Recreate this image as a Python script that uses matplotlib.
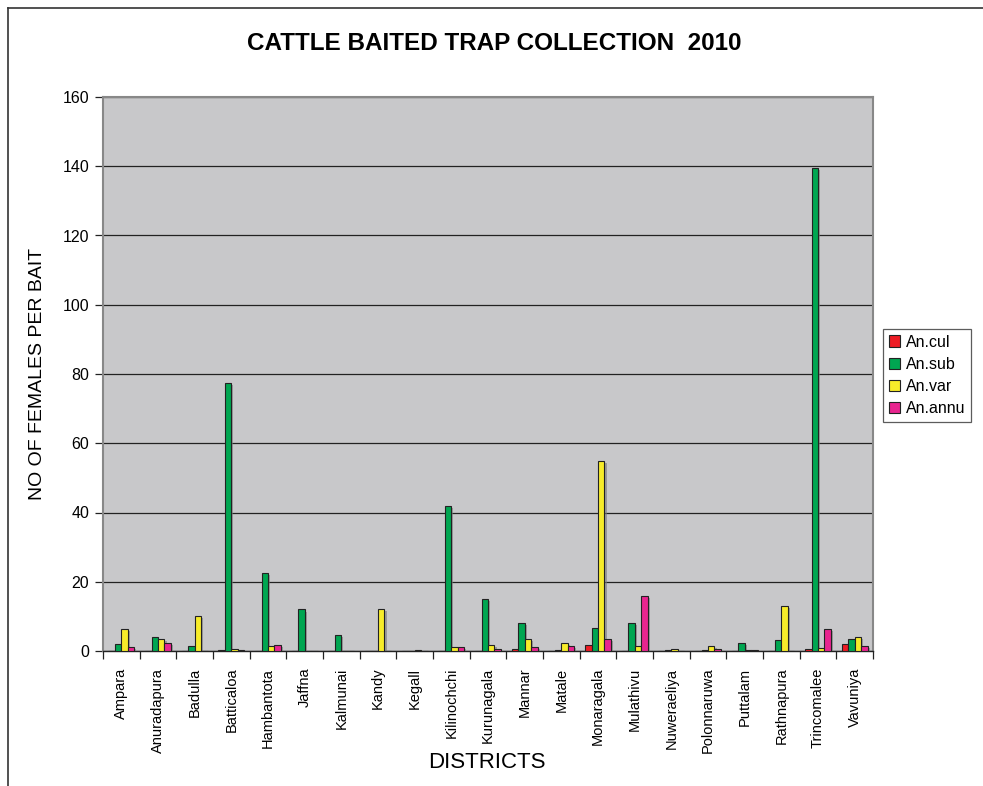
import matplotlib
matplotlib.use("Agg")
import matplotlib.pyplot as plt
import matplotlib.patheffects as pe
from matplotlib.lines import Line2D
import numpy as np

plt.rcParams['font.family'] = ['Liberation Sans', 'DejaVu Sans']

districts = ["Ampara", "Anuradapura", "Badulla", "Batticaloa", "Hambantota", "Jaffna",
             "Kalmunai", "Kandy", "Kegall", "Kilinochchi", "Kurunagala", "Mannar",
             "Matale", "Monaragala", "Mulathivu", "Nuweraeliya", "Polonnaruwa",
             "Puttalam", "Rathnapura", "Trincomalee", "Vavuniya"]

an_cul = [0, 0, 0, 0.3, 0, 0, 0, 0, 0, 0, 0, 0.6, 0, 1.8, 0, 0, 0, 0, 0, 0.6, 2.1]
an_sub = [2.1, 4.0, 1.5, 77.5, 22.5, 12.0, 4.7, 0, 0, 42.0, 15.1, 8.1, 0.3, 6.7, 8.0,
          0.3, 0.4, 2.4, 3.3, 139.5, 3.5]
an_var = [6.3, 3.4, 10.0, 0.6, 1.4, 0, 0, 12.1, 0.3, 1.2, 1.8, 3.5, 2.4, 54.9, 1.5,
          0.6, 1.5, 0.3, 13.0, 1.0, 4.1]
an_annu = [1.1, 2.4, 0, 0.3, 1.8, 0, 0, 0, 0, 1.2, 0.6, 1.2, 1.5, 3.5, 16.0,
           0, 0.6, 0.3, 0, 6.3, 1.5]

series_names = ["An.cul", "An.sub", "An.var", "An.annu"]
series_values = [an_cul, an_sub, an_var, an_annu]
series_colors = ["#ED1C24", "#00A651", "#F7EC2A", "#E8258F"]

y_ticks = [0, 20, 40, 60, 80, 100, 120, 140, 160]

W, H = 983, 786
fig = plt.figure(figsize=(W / 100, H / 100), dpi=100)
fig.patch.set_facecolor("white")

# frame lines along top and left of the sheet
fig.add_artist(Line2D([8 / W, 1.0], [1 - 8 / H, 1 - 8 / H], color="#333333", lw=1.2,
                      transform=fig.transFigure))
fig.add_artist(Line2D([8 / W, 8 / W], [0, 1 - 8 / H], color="#333333", lw=1.2,
                      transform=fig.transFigure))

ax_l, ax_r, ax_t, ax_b = 103, 873, 97, 651
ax = fig.add_axes([ax_l / W, 1 - ax_b / H, (ax_r - ax_l) / W, (ax_b - ax_t) / H])
ax.set_facecolor("#C8C8CA")

n = len(districts)
x = np.arange(n)
bw = 0.177
offsets = (np.arange(4) - 1.5) * bw
shadow = [pe.SimplePatchShadow(offset=(1.5, -1.5), shadow_rgbFace="#7a7a7a", alpha=0.6),
          pe.Normal()]
for vals, off, col, name in zip(series_values, offsets, series_colors, series_names):
    bars = ax.bar(x + off, vals, width=bw, color=col, edgecolor="#222222", linewidth=0.8,
                  label=name, zorder=3)
    for b in bars:
        b.set_path_effects(shadow)

ax.set_xlim(-0.5, n - 0.5)
ax.set_ylim(0, 160)
ax.set_yticks(y_ticks)
ax.set_yticklabels([str(v) for v in y_ticks], fontsize=11.5)
ax.yaxis.grid(True, color="#222222", linewidth=0.9, zorder=1)
ax.set_axisbelow(True)

ax.set_xticks(x)
ax.set_xticklabels(districts, rotation=90, fontsize=10.5, va="top")
ax.set_xticks(np.arange(n + 1) - 0.5, minor=True)
ax.tick_params(axis="x", which="major", length=0, pad=12)
ax.tick_params(axis="x", which="minor", length=6, color="#222222", width=0.9)
ax.tick_params(axis="y", length=6, color="#222222", width=0.9, pad=4)

for side in ["top", "right"]:
    ax.spines[side].set_color("#888888")
    ax.spines[side].set_linewidth(1.5)
ax.spines["left"].set_color("#888888")
ax.spines["left"].set_linewidth(1.5)
ax.spines["bottom"].set_color("#222222")
ax.spines["bottom"].set_linewidth(1.0)

fig.text(494 / W, 1 - 44 / H, "CATTLE BAITED TRAP COLLECTION  2010", ha="center",
         va="center", fontsize=17.5, fontweight="bold")
fig.text(38 / W, 1 - 374 / H, "NO OF FEMALES PER BAIT", rotation=90, ha="center",
         va="center", fontsize=14)
fig.text(487 / W, 1 - 763 / H, "DISTRICTS", ha="center", va="center", fontsize=16)

handles = [plt.Rectangle((0, 0), 1, 1, facecolor=c, edgecolor="#222222", lw=0.8)
           for c in series_colors]
leg = fig.legend(handles, series_names, loc="upper left",
                 bbox_to_anchor=(883 / W, 1 - 329 / H), fontsize=11.5, frameon=True,
                 fancybox=False, edgecolor="#333333", handlelength=0.7, handleheight=0.7,
                 handletextpad=0.4, borderpad=0.35, labelspacing=0.45, borderaxespad=0)
leg.get_frame().set_linewidth(0.9)

fig.savefig("out.png", dpi=100)
